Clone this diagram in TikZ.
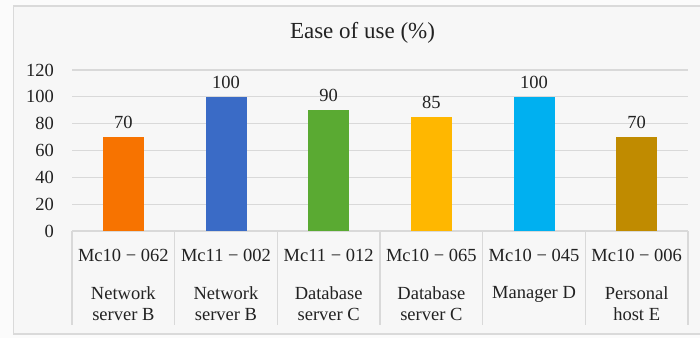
\documentclass[tikz,border=0pt]{standalone}
\usepackage{fontspec}
\setmainfont{Liberation Serif}
\definecolor{cOrange}{HTML}{F77300}
\definecolor{cBlue}{HTML}{3A6BC6}
\definecolor{cGreen}{HTML}{5AAA32}
\definecolor{cGold}{HTML}{FFB700}
\definecolor{cCyan}{HTML}{00B0F0}
\definecolor{cBrown}{HTML}{C08B00}
\definecolor{gridc}{HTML}{D9D9D9}
\definecolor{framec}{HTML}{DADADA}
\definecolor{bgin}{HTML}{F7F7F7}
\definecolor{bgout}{HTML}{FBFBFB}
\definecolor{txt}{HTML}{222222}
\begin{document}
\begin{tikzpicture}[x=1pt,y=-1pt,
  gridline/.style={draw=gridc,line width=1.3pt},
  sepline/.style={draw=gridc,line width=1.3pt},
  bar/.style={draw=none,minimum width=41pt,inner sep=0pt,outer sep=0pt,anchor=south},
  lab/.style={font=\fontsize{18.5}{21}\selectfont,text=txt,inner sep=0pt},
  ticklab/.style={lab,anchor=east},
  vallab/.style={lab,anchor=south},
  catlab/.style={lab,align=center,anchor=north,font=\fontsize{18.5}{21.5}\selectfont},
  ttl/.style={font=\fontsize{23}{26}\selectfont,text=txt,inner sep=0pt}]
\useasboundingbox (0,0) rectangle (700,338);
\begin{scope}
\clip (0,0) rectangle (700,338);
\fill[bgout] (0,0) rectangle (700,338);
\draw[fill=bgin,draw=framec,line width=1.5pt] (13.5,6) rectangle (710,334);
\end{scope}
\node[ttl] (title) at (362.5,33) {Ease of use (\%)};
% gridlines and ticks
\foreach \v/\nm in {0/t0,20/t20,40/t40,60/t60,80/t80,100/t100,120/t120}{
  \coordinate (gl\nm) at (72,{231-1.3417*\v});
  \coordinate (gr\nm) at (688,{231-1.3417*\v});
  \node[ticklab] (\nm) at (54,{231-1.3417*\v}) {\v};
}
\foreach \nm in {t20,t40,t60,t80,t100,t120}{
  \draw[gridline] (gl\nm) -- (gr\nm);
}
\draw[gridline] (glt0) -- (grt0);
% category separators
\foreach \i in {0,...,6}{
  \coordinate (st\i) at ({72+102.667*\i},231);
  \coordinate (sb\i) at ({72+102.667*\i},325);
  \draw[sepline] (st\i) -- (sb\i);
}
% bars
\foreach \i/\v/\c in {0/70/cOrange,1/100/cBlue,2/90/cGreen,3/85/cGold,4/100/cCyan,5/70/cBrown}{
  \node[bar,fill=\c,minimum height={1.3417*\v*1pt}] (bar\i) at ({72+102.667*(\i+0.5)},231) {};
  \node[vallab] (val\i) at ([yshift=8pt]bar\i.north) {\v};
}
% category labels
\foreach \i/\a/\b in {0/{Mc10 − 062}/{Network\\server B},1/{Mc11 − 002}/{Network\\server B},2/{Mc11 − 012}/{Database\\server C},3/{Mc10 − 065}/{Database\\server C},4/{Mc10 − 045}/{Manager D},5/{Mc10 − 006}/{Personal\\host E}}{
  \node[lab] (ca\i) at ({72+102.667*(\i+0.5)},255) {\a};
  \node[catlab] (cb\i) at ({72+102.667*(\i+0.5)},286) {\b};
}
\end{tikzpicture}
\end{document}
